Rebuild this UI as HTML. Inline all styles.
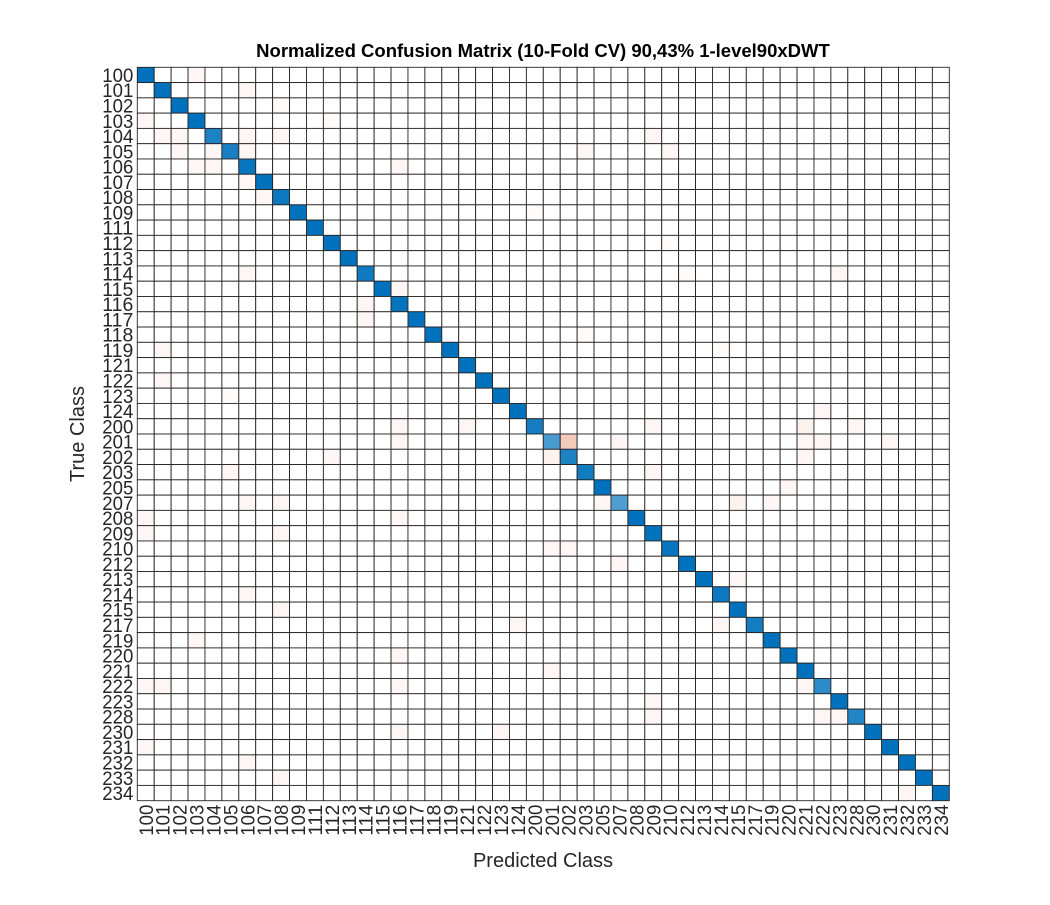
<!DOCTYPE html>
<html><head><meta charset="utf-8"><style>
body{margin:0;background:#fff;}
svg text{font-family:"Liberation Sans",sans-serif;fill:#262626;}
</style></head><body>
<svg id="chart" width="1050" height="900">
<rect width="1050" height="900" fill="#fff"/>
<text x="543" y="57" text-anchor="middle" font-size="18.5" font-weight="bold" style="fill:#000">Normalized Confusion Matrix (10-Fold CV) 90,43% 1-level90xDWT</text>
<g id="cells"></g>
<g id="ylabels"></g>
<g id="xlabels"></g>
<text x="0" y="0" transform="translate(84,434) rotate(-90)" text-anchor="middle" font-size="20">True Class</text>
<text x="543" y="867" text-anchor="middle" font-size="20">Predicted Class</text>
</svg>
<script>
const classes=["100","101","102","103","104","105","106","107","108","109","111","112","113","114","115","116","117","118","119","121","122","123","124","200","201","202","203","205","207","208","209","210","212","213","214","215","217","219","220","221","222","223","228","230","231","232","233","234"];
const diagValues=[97,96,96,97,80,82,90,95,88,96,96,97,95,86,95,93,96,95,95,96,97,95,96,84,58,80,85,96,55,94,96,90,96,96,88,96,84,95,96,94,72,96,78,96,97,95,96,96];
const offDiag=[[0,3,2],[1,6,2],[3,0,2],[4,1,2],[4,2,2],[4,6,2],[5,2,2],[5,4,2],[5,6,2],[6,3,2],[6,4,2],[7,6,2],[8,7,2],[13,6,2],[15,13,2],[16,13,2],[23,19,2],[23,39,3],[24,25,12],[24,15,2],[24,28,2],[24,39,2],[25,24,3],[25,39,2],[26,5,2],[28,27,2],[28,35,3],[28,37,2],[28,6,2],[28,8,2],[29,0,2],[30,0,2],[31,24,2],[31,25,2],[36,34,2],[40,0,2],[40,15,2],[40,39,2],[42,41,2],[42,40,2],[42,30,2],[44,0,2],[45,6,2],[47,45,2],[40,1,2],[20,1,2],[35,8,2],[14,15,2],[38,15,2],[43,15,2],[2,8,1],[3,11,1],[4,8,2],[4,30,2],[5,26,2],[5,31,2],[6,15,2],[9,23,1],[11,31,1],[13,32,1],[13,41,2],[17,26,1],[18,1,2],[18,34,1],[21,5,1],[22,40,2],[23,15,2],[23,30,2],[23,42,2],[24,40,2],[24,44,2],[25,11,2],[26,30,2],[27,38,2],[29,15,2],[30,8,2],[32,28,2],[33,35,2],[34,6,2],[36,22,2],[37,3,2],[39,24,2],[41,30,2],[43,21,2],[46,8,2]];
const x0=137.3,y0=67.3,cw=812/48,ch=733.4/48;
const xs=i=>x0+i*cw, ys=i=>y0+i*ch;
function mix(a,t){return `rgb(${Math.round(255+(a[0]-255)*t)},${Math.round(255+(a[1]-255)*t)},${Math.round(255+(a[2]-255)*t)})`;}
const ns="http://www.w3.org/2000/svg";
const cells=document.getElementById('cells');
const n=classes.length;
const vals={};
offDiag.forEach(d=>{vals[d[0]+','+d[1]]=d[2];});
for(let r=0;r<n;r++)for(let c=0;c<n;c++){
  const rc=document.createElementNS(ns,'rect');
  rc.setAttribute('x',xs(c));rc.setAttribute('y',ys(r));
  rc.setAttribute('width',cw);rc.setAttribute('height',ch);
  let fill='#fff';
  if(r===c){fill=mix([0,114,189],Math.min(1,0.25+diagValues[r]/100*0.8));}
  else if(vals[r+','+c]){fill=mix([217,83,25],Math.min(1,vals[r+','+c]/40));}
  rc.setAttribute('fill',fill);
  rc.setAttribute('stroke','#262626');rc.setAttribute('stroke-width','0.9');
  
  
  cells.appendChild(rc);
}
const yl=document.getElementById('ylabels'),xl=document.getElementById('xlabels');
classes.forEach((c,i)=>{
  const t=document.createElementNS(ns,'text');
  t.setAttribute('x',x0-4);t.setAttribute('y',ys(i)+ch/2+7);
  t.setAttribute('text-anchor','end');t.setAttribute('font-size','19.5');
  t.setAttribute('textLength','31');t.setAttribute('lengthAdjust','spacingAndGlyphs');
  t.textContent=c;
  
  
  yl.appendChild(t);
  const u=document.createElementNS(ns,'text');
  const cx=xs(i)+cw/2+7,cy=y0+733.4+4;
  u.setAttribute('transform',`translate(${cx},${cy}) rotate(-90)`);
  u.setAttribute('text-anchor','end');u.setAttribute('font-size','19.5');
  u.setAttribute('textLength','31');u.setAttribute('lengthAdjust','spacingAndGlyphs');
  u.textContent=c;
  
  
  xl.appendChild(u);
});
</script>
</body></html>
